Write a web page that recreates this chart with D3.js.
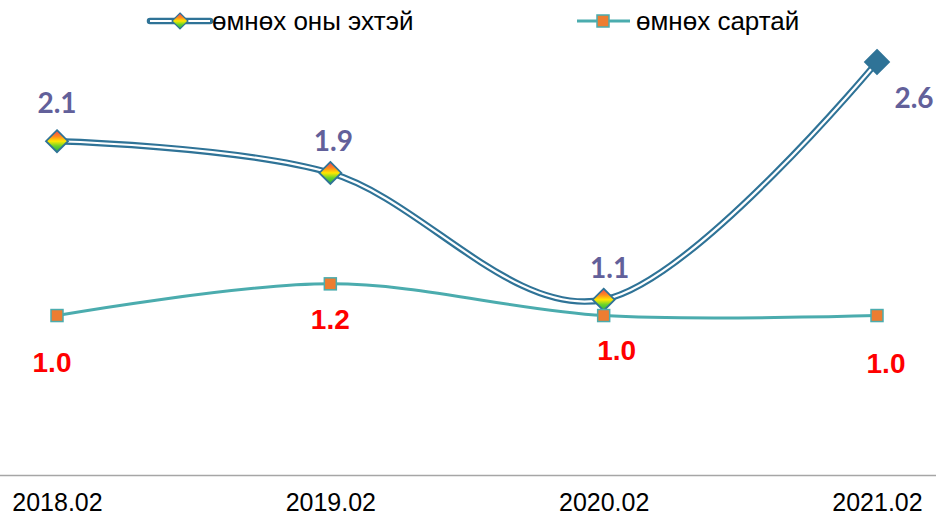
<!DOCTYPE html>
<html>
<head>
<meta charset="utf-8">
<script src="https://cdn.jsdelivr.net/npm/d3@7"></script>
<style>
  html, body { margin: 0; padding: 0; background: #fff; }
  svg { display: block; }
</style>
</head>
<body>
<svg id="chart" width="936" height="517"></svg>
<script>
// Categories and series values
const categories = ["2018.02", "2019.02", "2020.02", "2021.02"];
const seriesNames = ["өмнөх оны эхтэй", "өмнөх сартай"];
const yearOnYear = [2.1, 1.9, 1.1, 2.6];
const monthOnMonth = [1.0, 1.2, 1.0, 1.0];

// Label placement relative to each point (dx, dy to text baseline)
const yoyLabelOffsets = [[0, -28], [3, -22], [6, -22], [37, 46]];
const momLabelOffsets = [[-5, 56], [0, 45], [13, 44], [9, 57]];

const W = 936, H = 517;
const svg = d3.select("#chart");

const x = d3.scalePoint().domain(categories).range([57, 877]).padding(0);
const y = d3.scaleLinear().domain([0, 2.6]).range([474, 62]);

const blue = "#2f7397";
const teal = "#4bacae";
const orange = "#ed7d31";

// Rainbow fill for the diamond markers
const defs = svg.append("defs");
const grad = defs.append("linearGradient")
  .attr("id", "rainbow").attr("x1", 0).attr("y1", 0).attr("x2", 0).attr("y2", 1);
[[0, "#f0405a"], [0.28, "#ff8a1e"], [0.5, "#ffe800"], [0.72, "#6cd42a"], [1, "#1fa84a"]]
  .forEach(([o, c]) => grad.append("stop").attr("offset", o).attr("stop-color", c));

// Category axis along the bottom
svg.append("line")
  .attr("x1", 0).attr("x2", W).attr("y1", 475.5).attr("y2", 475.5)
  .attr("stroke", "#a6a6a6").attr("stroke-width", 1.5);

const axis = d3.axisBottom(x).tickSize(0).tickPadding(0);
const gAxis = svg.append("g").attr("transform", "translate(0,475)").call(axis);
gAxis.select(".domain").remove();
gAxis.selectAll("text")
  .attr("dy", null).attr("y", 36)
  .attr("font-family", "Liberation Sans, Arial, sans-serif")
  .attr("font-size", 25).attr("fill", "#000");

const line = d3.line()
  .x((d, i) => x(categories[i]))
  .y(d => y(d))
  .curve(d3.curveCardinal.tension(0));

// Year-on-year: double line (dark outline with white core)
svg.append("path").attr("d", line(yearOnYear))
  .attr("fill", "none").attr("stroke", blue).attr("stroke-width", 6.5);
svg.append("path").attr("d", line(yearOnYear))
  .attr("fill", "none").attr("stroke", "#fff").attr("stroke-width", 2.2);

// Month-on-month: solid teal line
svg.append("path").attr("d", line(monthOnMonth))
  .attr("fill", "none").attr("stroke", teal).attr("stroke-width", 3);

const diamond = r => `M0,${-r}L${r},0L0,${r}L${-r},0Z`;

// Year-on-year markers
svg.append("g").selectAll("path").data(yearOnYear).join("path")
  .attr("transform", (d, i) => `translate(${x(categories[i])},${y(d)})`)
  .attr("d", (d, i) => i === yearOnYear.length - 1 ? diamond(12) : diamond(11))
  .attr("fill", (d, i) => i === yearOnYear.length - 1 ? blue : "url(#rainbow)")
  .attr("stroke", blue).attr("stroke-width", 1.8);

// Month-on-month markers
svg.append("g").selectAll("rect").data(monthOnMonth).join("rect")
  .attr("x", (d, i) => x(categories[i]) - 6)
  .attr("y", d => y(d) - 6)
  .attr("width", 12).attr("height", 12)
  .attr("fill", orange).attr("stroke", teal).attr("stroke-width", 1.5);

// Value labels
svg.append("g").selectAll("text").data(yearOnYear).join("text")
  .attr("x", (d, i) => x(categories[i]) + yoyLabelOffsets[i][0])
  .attr("y", (d, i) => y(d) + yoyLabelOffsets[i][1])
  .attr("text-anchor", "middle")
  .attr("font-family", "Lato, 'Open Sans', sans-serif")
  .attr("font-weight", "bold").attr("font-size", 28)
  .attr("fill", "#62609a")
  .text(d => d.toFixed(1));

svg.append("g").selectAll("text").data(monthOnMonth).join("text")
  .attr("x", (d, i) => x(categories[i]) + momLabelOffsets[i][0])
  .attr("y", (d, i) => y(d) + momLabelOffsets[i][1])
  .attr("text-anchor", "middle")
  .attr("font-family", "Liberation Sans, Arial, sans-serif")
  .attr("font-weight", "bold").attr("font-size", 28)
  .attr("fill", "#ff0000")
  .text(d => d.toFixed(1));

// Legend
const legend = svg.append("g");
const l1 = legend.append("g").attr("transform", "translate(150,21)");
l1.append("line").attr("x1", 0).attr("x2", 60)
  .attr("stroke", blue).attr("stroke-width", 6.5).attr("stroke-linecap", "round");
l1.append("line").attr("x1", 0).attr("x2", 60)
  .attr("stroke", "#fff").attr("stroke-width", 2.2);
l1.append("path").attr("transform", "translate(30,0)").attr("d", diamond(8))
  .attr("fill", "url(#rainbow)").attr("stroke", blue).attr("stroke-width", 1.2);
l1.append("text").attr("x", 62).attr("y", 9)
  .attr("font-family", "Liberation Sans, Arial, sans-serif").attr("font-size", 26)
  .attr("fill", "#000").text(seriesNames[0]);

const l2 = legend.append("g").attr("transform", "translate(577,21)");
l2.append("line").attr("x1", 0).attr("x2", 53)
  .attr("stroke", teal).attr("stroke-width", 3);
l2.append("rect").attr("x", 20).attr("y", -6).attr("width", 12).attr("height", 12)
  .attr("fill", orange).attr("stroke", teal).attr("stroke-width", 1.5);
l2.append("text").attr("x", 59).attr("y", 9)
  .attr("font-family", "Liberation Sans, Arial, sans-serif").attr("font-size", 26)
  .attr("fill", "#000").text(seriesNames[1]);
</script>
</body>
</html>
